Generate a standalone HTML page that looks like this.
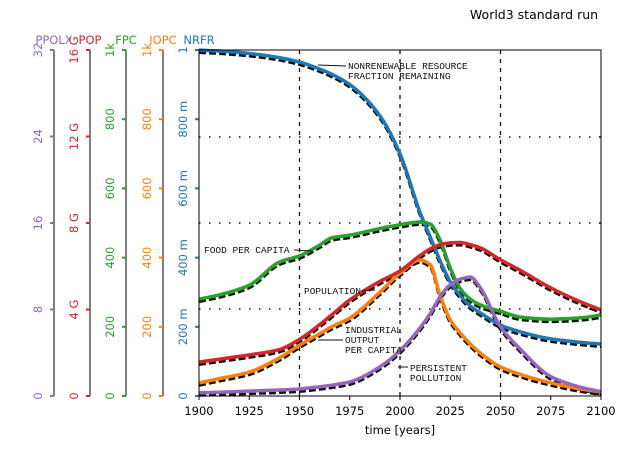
<!DOCTYPE html>
<html><head><meta charset="utf-8"><style>
body{margin:0;background:#fff;}
svg{display:block;font-family:"DejaVu Sans","Liberation Sans",sans-serif;}
.ann{font-family:"Liberation Mono",monospace;font-size:9.5px;fill:#111;}
</style></head><body>
<svg id="chart" width="630" height="450" viewBox="0 0 630 450">
<text x="534" y="19" font-size="12.5" text-anchor="middle">World3 standard run</text>
<g id="grid"></g>
<g id="axes"></g>
<g id="series"></g>
<rect x="199" y="50" width="402" height="346" fill="none" stroke="#000" stroke-width="1"/>
<g>
<text class="ann" x="348" y="69">NONRENEWABLE RESOURCE</text>
<text class="ann" x="348" y="79">FRACTION REMAINING</text>
<line x1="318" y1="65" x2="346" y2="66" stroke="#111"/>
<text class="ann" x="204" y="253">FOOD PER CAPITA</text>
<line x1="294" y1="250" x2="312" y2="251" stroke="#111"/>
<text class="ann" x="304" y="294">POPULATION</text>
<line x1="362" y1="291" x2="375" y2="290" stroke="#111"/>
<text class="ann" x="345" y="333">INDUSTRIAL</text>
<text class="ann" x="345" y="343">OUTPUT</text>
<text class="ann" x="345" y="353">PER CAPITA</text>
<line x1="318" y1="340" x2="343" y2="340" stroke="#111"/>
<text class="ann" x="410" y="371">PERSISTENT</text>
<text class="ann" x="410" y="381">POLLUTION</text>
<line x1="398" y1="367" x2="408" y2="367" stroke="#111"/>
</g>
<text x="400" y="434" font-size="11.5" text-anchor="middle">time [years]</text>
</svg>
<script>
const years = [1900,1910,1925,1940,1950,1960,1966,1975,1990,2000,2010,2015,2020,2025,2030,2035,2040,2050,2060,2075,2090,2100];
const nrfr = [1.0,0.997,0.99,0.978,0.965,0.945,0.93,0.90,0.81,0.70,0.53,0.46,0.39,0.33,0.29,0.26,0.24,0.205,0.185,0.165,0.155,0.15];
const fpc  = [280,292,320,387,405,436,457,465,484,495,503,497,450,370,310,280,263,245,228,222,226,234];
const pop  = [1.57,1.7,1.9,2.15,2.62,3.3,3.75,4.44,5.3,5.78,6.5,6.8,7.0,7.08,7.1,7.0,6.85,6.3,5.8,5.0,4.35,3.98];
const iopc = [38,50,69,110,147,180,200,225,300,355,393,380,290,220,182,150,124,84,62,38,20,12];
const ppolx= [0.3,0.35,0.45,0.55,0.65,0.85,1.0,1.3,2.7,4.2,6.3,7.6,9.2,10.3,10.8,11.0,10.0,6.4,4.3,1.8,0.8,0.4];
const xTicks = [1900,1925,1950,1975,2000,2025,2050,2075,2100];
const ppolxTicks = ["0","8","16","24","32"];
const popTicks = ["0","4 G","8 G","12 G","16 G"];
const fpcTicks = ["0","200","400","600","800","1k"];
const iopcTicks = ["0","200","400","600","800","1k"];
const nrfrTicks = ["0","200 m","400 m","600 m","800 m","1"];

const NS="http://www.w3.org/2000/svg";
const X0=199,X1=601,Y0=396,Y1=50;
function xs(v){return X0+(v-1900)/200*(X1-X0);}
function ys(v,max){return Y0-v/max*(Y0-Y1);}
function mk(tag,attrs,parent){const e=document.createElementNS(NS,tag);for(const k in attrs)e.setAttribute(k,attrs[k]);parent.appendChild(e);return e;}
const grid=document.getElementById('grid'),axes=document.getElementById('axes'),ser=document.getElementById('series');

[1950,2000,2050].forEach(yr=>{
 const l=mk('line',{x1:xs(yr),x2:xs(yr),y1:Y1,y2:Y0,stroke:'#111','stroke-width':1.3,'stroke-dasharray':'4,5'},grid);
 
 
});
[137,223,309].forEach(y=>{
 const l=mk('line',{x1:X0,x2:X1,y1:y,y2:y,stroke:'#111','stroke-width':1.6,'stroke-dasharray':'1.5,8.5'},grid);
 
 
});

xTicks.forEach(t=>{
 const x=xs(t);
 const tk=mk('line',{x1:x,x2:x,y1:Y0,y2:Y0+4,stroke:'#000'},axes);
 
 
 const tx=mk('text',{x:x,y:Y0+19,'font-size':11.5,'text-anchor':'middle'},axes);
 tx.textContent=t;
 
 
});

const yAxes=[
 {name:'PPOLX',x:54,color:'#9467bd',labels:ppolxTicks},
 {name:'POP',x:90,color:'#d62728',labels:popTicks},
 {name:'FPC',x:126,color:'#2ca02c',labels:fpcTicks},
 {name:'IOPC',x:163,color:'#ff7f0e',labels:iopcTicks},
 {name:'NRFR',x:199,color:'#1f77b4',labels:nrfrTicks}
];
yAxes.forEach(a=>{
 const sp=mk('line',{x1:a.x,x2:a.x,y1:Y1,y2:Y0,stroke:'#000'},axes);
 
 
 const t=mk('text',{x:a.x,y:44,'font-size':11.5,'text-anchor':'middle',fill:a.color},axes);
 t.textContent=a.name;
 
 
 const n=a.labels.length-1;
 a.labels.forEach((lab,i)=>{
  const y=Y0-(Y0-Y1)*i/n;
  const tk=mk('line',{x1:a.x-4,x2:a.x,y1:y,y2:y,stroke:a.color,'stroke-width':2},axes);
  
  
  const lx=a.x-12;
  const tx=mk('text',{x:lx,y:y,'font-size':11.5,'text-anchor':'middle',fill:a.color,transform:`rotate(-90 ${lx} ${y})`},axes);
  tx.textContent=lab;
  
  
 });
});

// monotone cubic (Fritsch-Carlson) in x
function pathFor(vals,max,dy){
 const p=years.map((yr,i)=>[xs(yr),ys(vals[i],max)+dy]);
 const n=p.length, d=[], m=new Array(n);
 for(let i=0;i<n-1;i++) d.push((p[i+1][1]-p[i][1])/(p[i+1][0]-p[i][0]));
 m[0]=d[0]; m[n-1]=d[n-2];
 for(let i=1;i<n-1;i++){
  if(d[i-1]*d[i]<=0) m[i]=0;
  else { const h0=p[i][0]-p[i-1][0],h1=p[i+1][0]-p[i][0];
   const w1=2*h1+h0,w2=h1+2*h0; m[i]=(w1+w2)/(w1/d[i-1]+w2/d[i]); }
 }
 let s=`M${p[0][0]},${p[0][1]}`;
 for(let i=0;i<n-1;i++){
  const h=(p[i+1][0]-p[i][0])/3;
  s+=`C${p[i][0]+h},${p[i][1]+m[i]*h} ${p[i+1][0]-h},${p[i+1][1]-m[i+1]*h} ${p[i+1][0]},${p[i+1][1]}`;
 }
 return s;
}
const series=[
 {n:'nrfr',v:nrfr,max:1,c:'#1f77b4'},
 {n:'fpc',v:fpc,max:1000,c:'#2ca02c'},
 {n:'iopc',v:iopc,max:1000,c:'#ff7f0e'},
 {n:'pop',v:pop,max:16,c:'#d62728'},
 {n:'ppolx',v:ppolx,max:32,c:'#9467bd'}
];
series.forEach(s=>{
 const b=mk('path',{d:pathFor(s.v,s.max,2.5),fill:'none',stroke:'#111','stroke-width':3,'stroke-dasharray':'7,3'},ser);
 
 
});
series.forEach(s=>{
 const l=mk('path',{d:pathFor(s.v,s.max,0),fill:'none',stroke:s.c,'stroke-width':3.5,'stroke-linejoin':'round'},ser);
 
 
});
</script>
</body></html>
